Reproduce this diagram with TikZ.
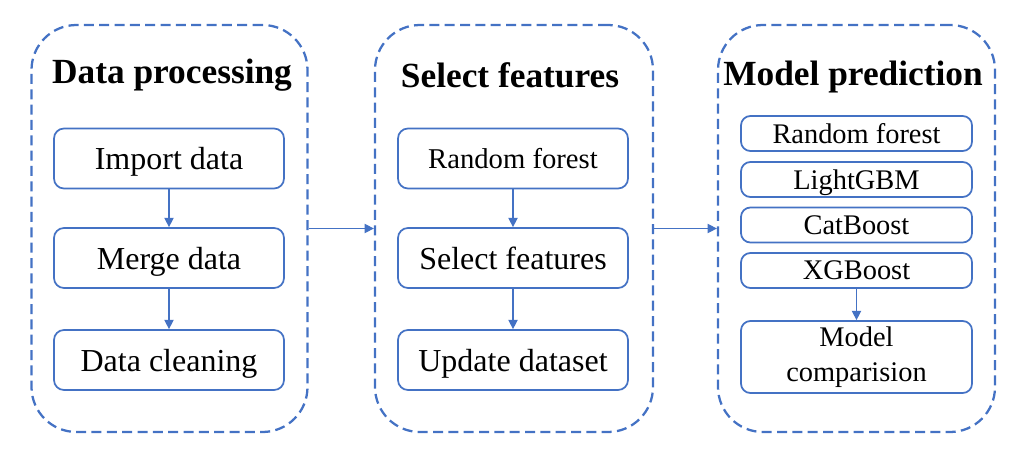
\documentclass[tikz,border=0pt]{standalone}
\usepackage{fontspec}
\setmainfont{Liberation Serif}
\usetikzlibrary{arrows.meta}
\definecolor{fblue}{RGB}{68,114,196}
\begin{document}
\begin{tikzpicture}[x=0.75pt,y=-0.75pt,
  panel/.style={draw=fblue,line width=1.7pt,dash pattern=on 7.5pt off 4pt,rounded corners=33.75pt,minimum width=207pt,minimum height=305.25pt,inner sep=0pt},
  stepbox/.style={draw=fblue,line width=1.3pt,rounded corners=7.5pt,minimum width=172.5pt,minimum height=45pt,inner sep=0pt,text depth=0pt,font=\fontsize{24}{28}\selectfont},
  smallbox/.style={draw=fblue,line width=1.3pt,rounded corners=7pt,minimum width=173.25pt,minimum height=26.25pt,inner sep=0pt,text depth=0pt,font=\fontsize{21.3}{26}\selectfont},
  ptitle/.style={font=\bfseries\fontsize{26.5}{30}\selectfont,inner sep=0pt},
  arr/.style={draw=fblue,line width=1pt,-{Triangle[length=7pt,width=7pt]}}
]
\useasboundingbox (0,0) rectangle (1027,456);
% panels
\node[panel] (p1) at (169.5,228.5) {};
\node[panel,minimum width=208.5pt] (p2) at (514,228.5) {};
\node[panel,minimum width=207.75pt] (p3) at (856.5,228.5) {};
% titles
\node[ptitle] (t1) at (172,75) {Data processing};
\node[ptitle] (t2) at (510,75) {Select features};
\node[ptitle] (t3) at (853,77) {Model prediction};
% left panel
\node[stepbox] (a1) at (169,158.5) {Import data};
\node[stepbox] (a2) at (169,258) {Merge data};
\node[stepbox] (a3) at (169,360) {Data cleaning};
% middle panel
\node[stepbox,font=\fontsize{21.5}{26}\selectfont] (b1) at (513,158.5) {Random forest};
\node[stepbox] (b2) at (513,258) {Select features};
\node[stepbox] (b3) at (513,360) {Update dataset};
% right panel
\node[smallbox] (c1) at (856.5,133.5) {Random forest};
\node[smallbox] (c2) at (856.5,179.5) {LightGBM};
\node[smallbox] (c3) at (856.5,225) {CatBoost};
\node[smallbox] (c4) at (856.5,270.5) {XGBoost};
\node[smallbox,minimum height=54pt,align=center,text depth=,font=\fontsize{21.3}{26}\selectfont] (c5) at (856.5,357) {Model\\comparision};
% arrows
\draw[arr] (a1.south) -- (a2.north);
\draw[arr] (a2.south) -- (a3.north);
\draw[arr] (b1.south) -- (b2.north);
\draw[arr] (b2.south) -- (b3.north);
\draw[arr] (c4.south) -- (c5.north);
\draw[arr] (p1.east) -- (p2.west);
\draw[arr] (p2.east) -- (p3.west);
\end{tikzpicture}
\end{document}
